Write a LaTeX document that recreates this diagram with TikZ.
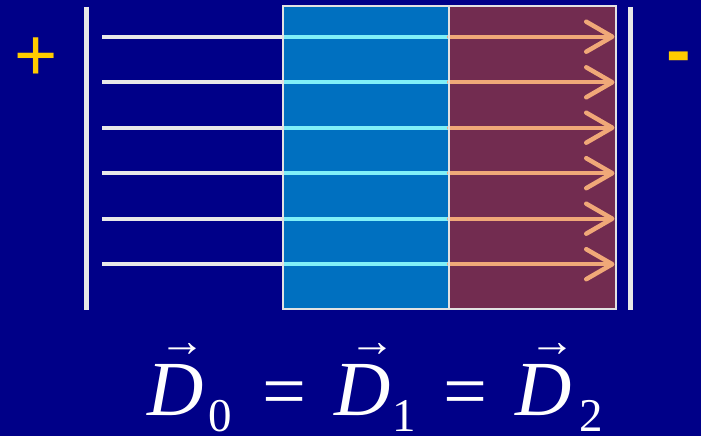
\documentclass[tikz,border=0pt]{standalone}
\usepackage{fontspec}
\setmainfont{Liberation Serif}
\newfontfamily\sansf{Liberation Sans}
\usetikzlibrary{arrows.meta}
\definecolor{bgnavy}{HTML}{000088}
\definecolor{slabblue}{HTML}{0070C0}
\definecolor{slabpurple}{HTML}{722C50}
\definecolor{edgegrey}{HTML}{E2E2E2}
\definecolor{fieldwhite}{HTML}{E8E8E8}
\definecolor{fieldcyan}{HTML}{80F0F8}
\definecolor{fieldorange}{HTML}{F0A878}
\definecolor{signyellow}{HTML}{FFCC00}
\tikzset{
  plate/.style={draw=fieldwhite, line width=5pt},
  slab/.style={draw=edgegrey, line width=2.5pt},
  fieldw/.style={draw=fieldwhite, line width=4pt},
  fieldc/.style={draw=fieldcyan, line width=4pt},
  fieldo/.style={draw=fieldorange, line width=4pt, line cap=round,
     -{Straight Barb[length=26pt,width=30pt,line width=4.5pt,round]}},
  eqtxt/.style={text=white, inner sep=0pt, anchor=base, font=\fontsize{78}{80}\selectfont},
  subtxt/.style={text=white, inner sep=0pt, anchor=base, font=\fontsize{47}{50}\selectfont},
  vecarrow/.style={text=white, inner sep=0pt, anchor=base, font=\fontsize{46}{48}\selectfont},
  signtxt/.style={text=signyellow, inner sep=0pt, anchor=base}
}
\begin{document}
\begin{tikzpicture}[x=1pt,y=-1pt]
\fill[bgnavy] (0,0) rectangle (701,436);
\useasboundingbox (0,0) rectangle (701,436);
% slabs
\path[fill=slabblue] (283,6) rectangle (449,309);
\path[fill=slabpurple] (449,6) rectangle (616,309);
% field lines
\foreach \i/\y in {1/36.7,2/82.3,3/127.7,4/173.2,5/218.7,6/264.2}{
  \coordinate (s\i) at (102,\y);
  \coordinate (a\i) at (283,\y);
  \coordinate (b\i) at (449,\y);
  \coordinate (e\i) at (614.5,\y);
  \draw[fieldw] (s\i) -- (a\i);
  \draw[fieldc] (a\i) -- (b\i);
  \draw[fieldo] (b\i) -- (e\i);
}
\draw[slab] (283,6) rectangle (616,309);
\draw[slab] (449,6) -- (449,309);
% plates
\coordinate (lp1) at (86,7);
\coordinate (lp2) at (86,310);
\coordinate (rp1) at (630.5,7);
\coordinate (rp2) at (630.5,310);
\draw[plate] (lp1) -- (lp2);
\draw[plate] (rp1) -- (rp2);
% signs
\node[signtxt, font=\sansf\fontsize{74}{76}\selectfont] (plus) at (36.5,80.5) {+};
\node[signtxt, font=\sansf\bfseries\fontsize{74}{76}\selectfont] (minus) at (678.5,75) {-};
% equation
\node[eqtxt] (D0) at (176,415) {\itshape D};
\node[vecarrow] (v0) at (182.5,356) {→};
\node[subtxt] (n0) at (220,431) {0};
\node[eqtxt] (eq1) at (284.5,417) {=};
\node[eqtxt] (D1) at (363,415) {\itshape D};
\node[vecarrow] (v1) at (372,356) {→};
\node[subtxt] (n1) at (404,431) {1};
\node[eqtxt] (eq2) at (465,417) {=};
\node[eqtxt] (D2) at (544,415) {\itshape D};
\node[vecarrow] (v2) at (552.5,356) {→};
\node[subtxt] (n2) at (591,431) {2};
\end{tikzpicture}
\end{document}
